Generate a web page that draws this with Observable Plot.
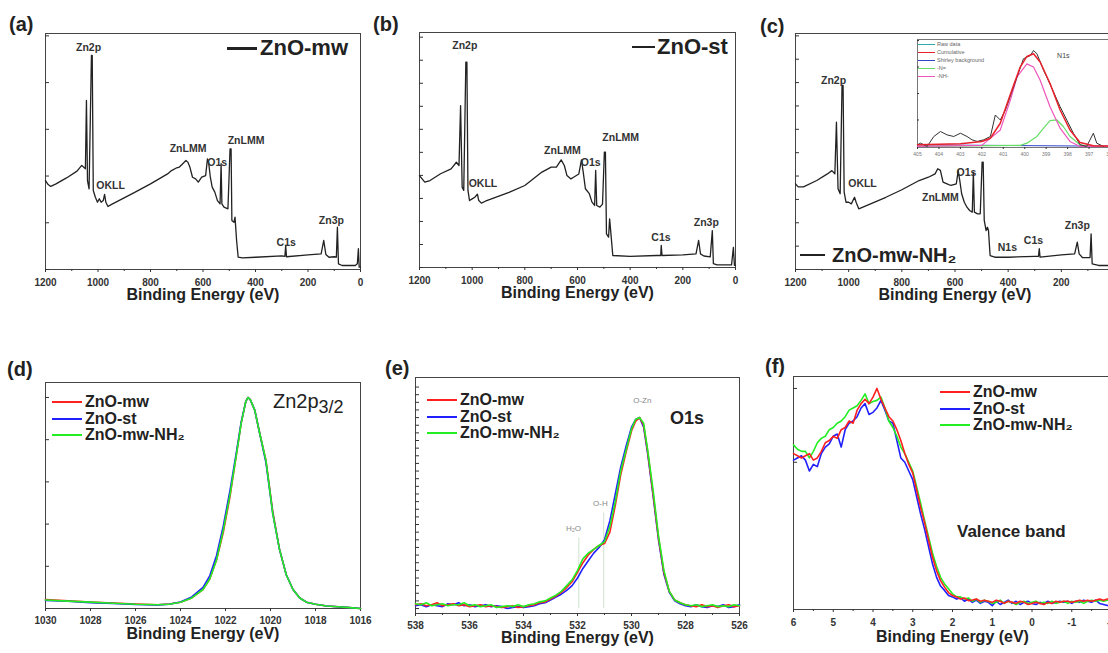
<!DOCTYPE html>
<html><head><meta charset="utf-8">
<script src="https://cdn.jsdelivr.net/npm/d3@7"></script>
<script src="https://cdn.jsdelivr.net/npm/@observablehq/plot@0.6"></script>
<style>
body{margin:0;background:#fff;}
#root{position:relative;width:1108px;height:653px;overflow:hidden;font-family:'Liberation Sans',Arial,Helvetica,sans-serif;color:#222;background:#fff;}
.abs{position:absolute;white-space:nowrap;}
.plab{font-weight:bold;font-size:20px;line-height:20px;}
.leg{font-weight:bold;font-size:16px;}
.leg .row{display:flex;align-items:center;height:16.5px;}
.leg .sw{display:inline-block;width:30px;height:2px;margin-right:3px;}
.ileg{font-size:5.5px;color:#666;}
.ileg .row{display:flex;align-items:center;height:8px;}
.ileg .sw{display:inline-block;width:17px;height:1px;margin-right:2px;}
</style></head><body><div id="root"></div>
<script>
// ---------- shared ----------
const axisTitle = "Binding Energy (eV)";
const surveyTicks = [1200, 1000, 800, 600, 400, 200, 0];
const surveyMinor = [1100, 900, 700, 500, 300, 100];
const seriesNames = ["ZnO-mw", "ZnO-st", "ZnO-mw-NH₂"];
const seriesColors = ["#ff2020", "#2020ff", "#22ee22"];

// ---------- (a) survey ZnO-mw ----------
const aEnergy = [1200,1190,1180,1160,1120,1080,1062,1055,1048,1044,1040,1034,1025,1022,1018,1010,1002,995,988,980,975,970,962,950,862,800,735,720,700,690,680,665,658,650,640,628,618,605,590,583,578,572,565,555,545,535,531,528,520,505,497,493,490,482,478,472,466,450,400,300,288,285,282,200,150,140,132,120,100,92,88,84,70,20,12,8,5,0];
const aIntensity = [37.7,36.0,35.2,36.3,38.8,41.7,44.1,43.4,42.7,71.6,37.7,34.2,90.7,90.7,33.5,30.6,28.5,30.0,28.5,29.2,31.8,28.5,26.7,27.5,32.6,36.3,40.5,41.9,43.1,43.4,44.5,46.2,45.5,43.4,39.1,38.4,37.0,39.1,39.8,46.9,44.8,39.1,34.9,32.8,29.2,27.8,44.8,27.8,26.4,25.7,51.1,51.1,20.8,20.0,22.2,12.3,5.2,4.9,5.2,5.8,5.6,10.2,5.4,6.2,6.6,12.3,6.4,5.2,5.4,5.2,17.9,2.4,1.7,1.7,2.4,8.8,1.0,1.0];
const aNoteText = ["Zn2p","OKLL","ZnLMM","O1s","ZnLMM","C1s","Zn3p"];
const aNoteE = [1036,952,657,546,436,283,111];
const aNoteV = [94.1,35.6,51.3,45.3,54.7,11.4,20.8];

// ---------- (b) survey ZnO-st ----------
const bEnergy = [1200,1180,1160,1120,1080,1060,1050,1044,1038,1032,1024,1020,1016,1010,1000,990,980,975,965,950,860,800,735,700,680,662,650,640,625,615,595,585,578,570,555,545,535,531,527,515,505,498,494,490,482,478,473,466,400,300,284,282,279,200,150,140,133,120,96,88,84,70,15,8,4,0];
const bIntensity = [39.1,36.3,37.0,39.9,42.0,44.8,43.4,68.9,34.2,32.8,87.4,87.4,32.8,28.5,29.2,29.9,31.2,28.5,27.4,28.2,32.0,34.9,40.6,42.7,42.7,45.8,43.4,39.1,37.7,38.4,39.8,45.8,40.4,33.5,31.4,27.8,26.4,41.3,26.4,25.7,27.0,49.1,49.1,14.3,12.9,20.7,14.3,5.1,4.7,5.1,5.1,9.4,5.1,5.4,5.8,11.5,5.8,4.9,4.5,15.7,1.6,1.1,1.1,8.6,0.9,0.9];
const bNoteText = ["Zn2p","OKLL","ZnLMM","O1s","ZnLMM","C1s","Zn3p"];
const bNoteE = [1028,959,657,550,436,283,111];
const bNoteV = [94.5,35.7,49.8,44.7,55.3,12.8,19.1];

// ---------- (c) survey ZnO-mw-NH2 ----------
const cEnergy = [1200,1190,1170,1120,1080,1063,1052,1046,1040,1032,1025,1021,1017,1010,1000,990,978,972,962,860,800,735,700,675,665,655,645,630,615,595,588,582,575,565,555,545,535,531,527,515,505,498,494,490,483,478,474,468,450,400,300,286,283,280,200,150,140,133,120,100,92,88,84,60,20,10,6,3,0];
const cIntensity = [36.3,35.0,35.0,37.7,40.5,41.9,40.5,62.4,34.2,32.1,78.0,78.0,32.8,28.5,28.5,27.8,30.6,28.5,25.7,30.6,33.8,37.7,39.1,40.5,42.7,42.0,37.0,36.3,35.6,36.3,41.9,37.7,32.1,28.5,26.4,25.0,24.3,41.2,24.3,23.6,23.6,45.5,45.5,20.8,16.5,17.9,16.5,5.9,5.2,5.2,5.6,5.6,8.8,5.2,6.2,6.6,11.6,6.6,5.0,5.0,5.0,15.1,2.4,1.7,1.7,2.0,8.0,1.2,1.2];
const cNoteText = ["Zn2p","OKLL","ZnLMM","O1s","N1s","C1s","Zn3p"];
const cNoteE = [1057,948,655,557,403,305,140];
const cNoteV = [80.1,36.4,30.5,41.1,9.3,12.3,18.6];

// ---------- (c) inset N1s ----------
const insetTicks = [405,404,403,402,401,400,399,398,397,396];
const insetRawE = [405.0,404.86,404.55,404.24,403.93,403.62,403.31,403.0,402.69,402.46,402.22,401.91,401.6,401.37,401.14,400.9,400.52,400.06,399.74,399.59,399.43,399.12,398.97,398.66,398.35,398.04,397.73,397.42,397.11,396.8,396.64,396.33];
const insetRaw = [1.6,3.1,0,9.4,14.1,10.9,9.4,12.5,9.4,6.3,4.7,6.3,9.4,29.7,25,34.4,56.3,82.8,85.9,90.6,87.5,71.9,65.6,51.6,37.5,25,12.5,1.6,0,12.5,3.1,0];
const insetCumE = [405,404,403,402,401.6,401.14,400.9,400.52,400.21,399.9,399.59,399.28,398.82,398.35,397.89,397.42,396.8,396];
const insetCum = [1.6,2,2.5,4.7,7.8,21.9,35.9,57.8,75,85,87.5,79.7,59.4,34.4,15.6,3.8,0.6,0.3];
const insetPinkE = [405,402,401.14,400.67,400.36,399.9,399.59,399.28,398.82,398.35,397.89,397.42,396];
const insetPink = [0,1,15.6,43.8,65.6,78,75,62.5,37.5,17.2,4.7,0,0];
const insetGreenE = [405,400.2,399.9,399.43,399.12,398.82,398.5,398.2,397.89,397.42,397.0,396];
const insetGreen = [0,1,3.1,9.4,17.2,24.4,25,18.8,9.4,1.6,0,0];
const insetBgE = [405,396];
const insetBg = [1.5,0.2];
const insetLegend = ["Raw data","Cumulative","Shirley background","-N=","-NH-"];
const insetLegendColors = ["#33aaaa","#e8202a","#3344cc","#66dd66","#ee55bb"];

// ---------- (d) Zn2p3/2 ----------
const dTicks = [1030,1028,1026,1024,1022,1020,1018,1016];
const dEnergy = [1030,1029,1028,1027,1026,1025,1024.5,1024,1023.5,1023,1022.7,1022.4,1022.1,1021.8,1021.5,1021.3,1021.1,1021.0,1020.9,1020.7,1020.5,1020.2,1019.9,1019.6,1019.3,1019.0,1018.7,1018.4,1018.0,1017.5,1017,1016.5,1016];
const dMw = [0.042,0.036,0.03,0.026,0.021,0.018,0.021,0.03,0.05,0.09,0.14,0.23,0.36,0.53,0.74,0.88,0.98,1.0,0.99,0.94,0.84,0.70,0.46,0.28,0.16,0.09,0.05,0.03,0.02,0.012,0.008,0.004,0.0];
const dSt = [0.038,0.034,0.028,0.024,0.019,0.017,0.02,0.031,0.055,0.1,0.155,0.25,0.39,0.56,0.75,0.885,0.98,1.0,0.99,0.94,0.84,0.69,0.45,0.28,0.16,0.09,0.05,0.03,0.02,0.012,0.008,0.004,0.0];
const dNh = [0.04,0.035,0.03,0.025,0.02,0.018,0.02,0.03,0.05,0.09,0.14,0.23,0.37,0.54,0.74,0.88,0.98,1.0,0.99,0.94,0.84,0.70,0.45,0.28,0.16,0.09,0.05,0.03,0.02,0.012,0.008,0.004,0.0];

// ---------- (e) O1s ----------
const eTicks = [538,536,534,532,530,528,526];
const eMinor = [537,535,533,531,529,527];
const eEnergy = [538.0,537.8,537.6,537.4,537.2,537.0,536.8,536.6,536.4,536.2,536.0,535.8,535.6,535.4,535.2,535.0,534.8,534.6,534.4,534.2,534.0,533.8,533.6,533.4,533.2,533.0,532.8,532.6,532.4,532.2,532.0,531.8,531.6,531.4,531.2,531.0,530.8,530.6,530.4,530.2,530.0,529.85,529.7,529.55,529.4,529.2,529.0,528.8,528.6,528.4,528.2,528.0,527.8,527.6,527.4,527.2,527.0,526.8,526.6,526.4,526.2,526.0];
const eMw = [0.02,0.025,0.015,0.02,0.03,0.015,0.02,0.025,0.015,0.02,0.01,0.015,0.02,0.01,0.015,0.01,0.005,0.01,0.015,0.005,0.01,
  0.015,0.02,0.03,0.035,0.05,0.065,0.085,0.11,0.14,0.19,
  0.24,0.28,0.31,0.33,0.34,0.40,0.54,0.70,0.82,0.93,
  0.98,1.0,0.96,
  0.82,0.60,0.37,0.19,0.09,0.045,0.03,0.02,0.015,0.01,0.02,0.01,0.015,0.005,0.015,0.02,0.01,0.015];
const eSt = [0.015,0.02,0.01,0.02,0.015,0.01,0.025,0.02,0.03,0.015,0.02,0.01,0.015,0.02,0.01,0.015,0.01,0.0,0.005,0.01,0.005,
  0.01,0.015,0.025,0.03,0.045,0.06,0.075,0.095,0.12,0.16,
  0.21,0.25,0.29,0.32,0.36,0.46,0.60,0.74,0.85,0.95,
  0.99,1.0,0.95,
  0.81,0.59,0.36,0.18,0.085,0.04,0.025,0.015,0.01,0.02,0.01,0.005,0.015,0.01,0.02,0.005,0.01,0.02];
const eNh = [0.025,0.02,0.03,0.015,0.02,0.025,0.015,0.02,0.02,0.03,0.015,0.02,0.01,0.015,0.02,0.005,0.01,0.015,0.01,0.02,0.01,
  0.02,0.025,0.035,0.04,0.055,0.07,0.09,0.12,0.15,0.20,
  0.26,0.29,0.31,0.33,0.35,0.43,0.56,0.72,0.83,0.94,
  0.99,1.0,0.97,
  0.83,0.62,0.38,0.20,0.09,0.045,0.03,0.02,0.015,0.02,0.01,0.015,0.02,0.01,0.015,0.01,0.02,0.015];
const eNoteText = ["O-Zn","O-H","H₂O"];
const eNoteE = [529.6,531.15,532.15];
const eNoteV = [1.09,0.55,0.42];
const eGuideE = [531.95,531.03];
const eGuideTop = [0.37,0.50];

// ---------- (f) valence band ----------
const fTicks = [6,5,4,3,2,1,0,-1,-2];
const fMinor = [5.5,4.5,3.5,2.5,1.5,0.5,-0.5,-1.5];
const fEnergy = [6.0,5.9,5.8,5.7,5.6,5.5,5.4,5.3,5.2,5.1,5.0,4.9,4.8,4.7,4.6,4.5,4.4,4.3,4.2,4.1,4.0,3.9,3.8,3.7,3.6,3.5,3.4,3.3,3.2,3.1,3.0,2.9,2.8,2.7,2.6,2.5,2.4,2.3,2.2,2.1,2.0,1.9,1.8,1.7,1.6,1.5,1.4,1.3,1.2,1.1,1.0,0.9,0.8,0.7,0.6,0.5,0.4,0.3,0.2,0.1,0.0,-0.1,-0.2,-0.3,-0.4,-0.5,-0.6,-0.7,-0.8,-0.9,-1.0,-1.1,-1.2,-1.3,-1.4,-1.5,-1.6,-1.7,-1.8,-1.9,-2.0];
const fMw = [0.70,0.69,0.68,0.69,0.70,0.67,0.68,0.71,0.75,0.76,0.78,0.77,0.81,0.82,0.85,0.84,0.90,0.93,0.95,0.93,0.96,1.0,0.95,0.91,0.87,0.85,0.81,0.76,0.70,0.65,0.61,0.53,0.45,0.38,0.30,0.22,0.16,0.115,0.085,0.06,0.046,0.04,0.03,0.035,0.023,0.026,
  0.03,0.02,0.025,0.02,0.015,0.025,0.02,0.01,0.02,0.015,0.01,0.02,0.015,0.005,0.01,0.015,0.01,0.005,0.015,0.01,0.02,0.015,0.02,0.02,0.015,0.02,0.025,0.02,0.025,0.02,0.025,0.03,0.025,0.03,0.035];
const fSt = [0.67,0.68,0.69,0.67,0.62,0.65,0.64,0.70,0.73,0.745,0.78,0.79,0.73,0.81,0.84,0.85,0.87,0.91,0.93,0.88,0.89,0.91,0.945,0.90,0.85,0.84,0.76,0.68,0.66,0.62,0.58,0.50,0.42,0.35,0.27,0.19,0.13,0.09,0.07,0.046,0.04,0.03,0.035,0.02,0.03,0.015,
  0.025,0.01,0.02,0.015,0.0,0.02,0.005,0.015,0.025,0.01,0.02,0.005,0.015,0.02,0.01,0.005,0.015,0.01,0.02,0.01,0.015,0.02,0.015,0.02,0.01,0.02,0.015,0.025,0.02,0.015,0.025,0.01,0.005,0.0,0.005];
const fNh = [0.74,0.72,0.71,0.71,0.68,0.71,0.75,0.77,0.78,0.81,0.82,0.84,0.85,0.87,0.90,0.91,0.92,0.945,0.975,0.93,0.94,0.945,0.96,0.91,0.85,0.82,0.78,0.73,0.70,0.66,0.62,0.545,0.47,0.39,0.315,0.24,0.18,0.13,0.10,0.077,0.054,0.041,0.04,0.03,0.035,0.02,
  0.03,0.015,0.025,0.02,0.01,0.015,0.025,0.01,0.02,0.015,0.005,0.015,0.02,0.01,0.015,0.02,0.01,0.015,0.01,0.02,0.01,0.015,0.02,0.01,0.02,0.015,0.02,0.01,0.02,0.025,0.02,0.025,0.02,0.025,0.02];

// ---------- helpers ----------
const FONT = "'Liberation Sans', Arial, Helvetica, sans-serif";
const root = document.getElementById("root");
const rows = (xs, ys) => xs.map((x, i) => ({x, y: ys[i]}));
const notes = (t, e, v) => t.map((s, i) => ({t: s, x: e[i], y: v[i]}));
function put(node, left, top) {
  node.style.position = "absolute";
  node.style.left = left + "px";
  node.style.top = top + "px";
  root.appendChild(node);
  return node;
}
function html(inner, left, top, cls, css) {
  const d = document.createElement("div");
  d.className = "abs " + (cls || "");
  d.innerHTML = inner;
  if (css) d.style.cssText = css;
  return put(d, left, top);
}
const baseStyle = {fontFamily: FONT, background: "transparent", overflow: "visible", color: "#333"};

function survey(o) {
  return Plot.plot({
    width: o.width, height: o.height,
    marginLeft: o.mL, marginRight: o.mR, marginTop: o.mT, marginBottom: o.mB,
    style: baseStyle,
    x: {domain: [1200, 0], label: null},
    y: {domain: [0, 100], label: null},
    marks: [
      Plot.frame({stroke: "#444"}),
      Plot.axisX({ticks: surveyTicks, tickSize: 3, tickPadding: 6, fontSize: 10, fontWeight: "bold", tickFormat: d => String(d), label: null}),
      Plot.axisX({ticks: surveyMinor, tickSize: 2, tickFormat: () => "", label: null}),
      Plot.axisY({ticks: o.yTicks, tickSize: -4, tickFormat: () => "", label: null}),
      Plot.line(rows(o.e, o.v), {x: "x", y: "y", stroke: "#222", strokeWidth: 1.3}),
      Plot.text(o.notes, {x: "x", y: "y", text: "t", fontSize: 10.5, fontWeight: "bold", fill: "#333"}),
      Plot.text([axisTitle], {text: d => d, frameAnchor: "bottom", dy: o.titleDy, fontSize: 16, fontWeight: "bold", fill: "#222"})
    ]
  });
}

function hires(o) {
  const marks = [
    Plot.frame({stroke: "#444"}),
    Plot.axisX({ticks: o.ticks, tickSize: 3, tickPadding: o.tickPad, fontSize: 10, fontWeight: "bold", tickFormat: d => String(d), label: null}),
    Plot.axisY({ticks: o.yTicks, tickSize: -4, tickFormat: () => "", label: null})
  ];
  if (o.minor) marks.push(Plot.axisX({ticks: o.minor, tickSize: 2, tickFormat: () => "", label: null}));
  if (o.extra) marks.push(...o.extra);
  o.order.forEach(k => {
    marks.push(Plot.line(rows(o.e, o.series[k]), {x: "x", y: "y", stroke: seriesColors[k], strokeWidth: 1.6}));
  });
  marks.push(Plot.text([axisTitle], {text: d => d, frameAnchor: "bottom", dy: o.titleDy, fontSize: 16, fontWeight: "bold", fill: "#222"}));
  return Plot.plot({
    width: o.width, height: o.height,
    marginLeft: o.mL, marginRight: o.mR, marginTop: o.mT, marginBottom: o.mB,
    style: baseStyle,
    x: {domain: o.xDomain, label: null},
    y: {domain: o.yDomain, label: null},
    marks
  });
}

function legendRows(colors, names, swWidth) {
  return names.map((n, i) => `<div class="row"><span class="sw" style="background:${colors[i]};width:${swWidth}px"></span>${n}</div>`).join("");
}

// ---------- top row ----------
put(survey({width: 370, height: 320, mL: 45, mR: 10, mT: 33, mB: 51, e: aEnergy, v: aIntensity,
  yTicks: [0,19.8,39.6,59.4,79.2,99], notes: notes(aNoteText, aNoteE, aNoteV), titleDy: 30}), 0, 0);
put(survey({width: 375, height: 320, mL: 49, mR: 10, mT: 32, mB: 53, e: bEnergy, v: bIntensity,
  yTicks: [0,9.8,19.6,29.4,39.2,49,58.8,68.6,78.4,88.2,98], notes: notes(bNoteText, bNoteE, bNoteV), titleDy: 30}), 370, 0);
put(survey({width: 380, height: 320, mL: 50, mR: 11, mT: 33, mB: 51, e: cEnergy, v: cIntensity,
  yTicks: [0,9.9,19.8,29.7,39.6,49.5,59.4,69.3,79.2,89.1,99], notes: notes(cNoteText, cNoteE, cNoteV), titleDy: 30}), 745, 0);

// inset
put(Plot.plot({
  width: 215, height: 127, marginLeft: 12, marginRight: 10, marginTop: 3, marginBottom: 16,
  style: baseStyle,
  x: {domain: [405, 396], label: null},
  y: {domain: [-1, 101], label: null},
  marks: [
    Plot.frame({fill: "white", stroke: "#777"}),
    Plot.axisX({ticks: insetTicks, tickSize: 2, tickPadding: 3, fontSize: 5, fill: "#777", tickFormat: d => String(d), label: null}),
    Plot.axisY({ticks: [0,25,50,75,100], tickSize: -2, tickFormat: () => "", label: null}),
    Plot.line(rows(insetBgE, insetBg), {x: "x", y: "y", stroke: "#3344cc", strokeWidth: 1}),
    Plot.line(rows(insetGreenE, insetGreen), {x: "x", y: "y", stroke: "#66dd66", strokeWidth: 1.2}),
    Plot.line(rows(insetPinkE, insetPink), {x: "x", y: "y", stroke: "#ee55bb", strokeWidth: 1.2}),
    Plot.line(rows(insetRawE, insetRaw), {x: "x", y: "y", stroke: "#333", strokeWidth: 1}),
    Plot.line(rows(insetCumE, insetCum), {x: "x", y: "y", stroke: "#e8202a", strokeWidth: 1.5}),
    Plot.text(["N1s"], {text: d => d, x: 398.2, y: 86, fontSize: 7, fill: "#444"})
  ]
}), 905, 36);
html(legendRows(insetLegendColors, insetLegend, 17), 918, 40, "ileg");

// survey legends
html(`<span style="display:inline-block;width:30px;height:3px;background:#222;margin-right:3px"></span>ZnO-mw`, 227, 35, "",
  "display:flex;align-items:center;height:26px;font-weight:bold;font-size:22px;");
html(`<span style="display:inline-block;width:23px;height:1.5px;background:#222;margin-right:2px"></span>ZnO-st`, 632, 34, "",
  "display:flex;align-items:center;height:26px;font-weight:bold;font-size:22px;");
html(`<span style="display:inline-block;width:25px;height:2px;background:#222;margin-right:7px"></span>ZnO-mw-NH₂`, 800, 242, "",
  "display:flex;align-items:center;height:26px;font-weight:bold;font-size:20px;");

// ---------- bottom row ----------
put(hires({width: 370, height: 313, mL: 45, mR: 10, mT: 42, mB: 45,
  xDomain: [1030, 1016], yDomain: [0, 1.071], ticks: dTicks, tickPad: 5, titleDy: 30,
  yTicks: [0,0.2,0.4,0.6,0.8,1.0], e: dEnergy, series: [dMw, dSt, dNh], order: [0, 1, 2]}), 0, 340);

put(hires({width: 375, height: 313, mL: 45, mR: 6, mT: 37, mB: 40,
  xDomain: [538, 526], yDomain: [-0.026, 1.21], ticks: eTicks, minor: eMinor, tickPad: 5, titleDy: 29,
  yTicks: d3.range(0, 1.2, 0.04),
  extra: [
    Plot.ruleX(eGuideE.map((x, i) => ({x, top: eGuideTop[i]})), {x: "x", y1: 0, y2: "top", stroke: "#cfe0cf", strokeWidth: 1}),
    Plot.text(notes(eNoteText, eNoteE, eNoteV), {x: "x", y: "y", text: "t", fontSize: 8, fill: "#888"})
  ],
  e: eEnergy, series: [eMw, eSt, eNh], order: [1, 0, 2]}), 370, 340);

put(hires({width: 375, height: 313, mL: 48, mR: 9, mT: 36, mB: 44,
  xDomain: [6, -2], yDomain: [-0.018, 1.055], ticks: fTicks, minor: fMinor, tickPad: 6, titleDy: 32,
  yTicks: [0.66, 1.0], e: fEnergy, series: [fMw, fSt, fNh], order: [1, 2, 0]}), 745, 340);

// bottom legends and labels
html(legendRows(seriesColors, seriesNames, 30), 52, 394, "leg");
html(legendRows(seriesColors, seriesNames, 30), 427, 392, "leg");
html(legendRows(seriesColors, seriesNames, 30), 940, 384, "leg");
html(`Zn2p<span style="position:relative;top:5px;font-size:18px">3/2</span>`, 273, 390, "", "font-size:20px;");
html("O1s", 670, 408, "", "font-size:18px;font-weight:bold;");
html("Valence band", 957, 522, "", "font-size:17px;font-weight:bold;");

// panel labels
html("(a)", 9, 14, "plab");
html("(b)", 373, 14, "plab");
html("(c)", 760, 16, "plab");
html("(d)", 7, 359, "plab");
html("(e)", 385, 358, "plab");
html("(f)", 765, 356, "plab");
</script></body></html>
